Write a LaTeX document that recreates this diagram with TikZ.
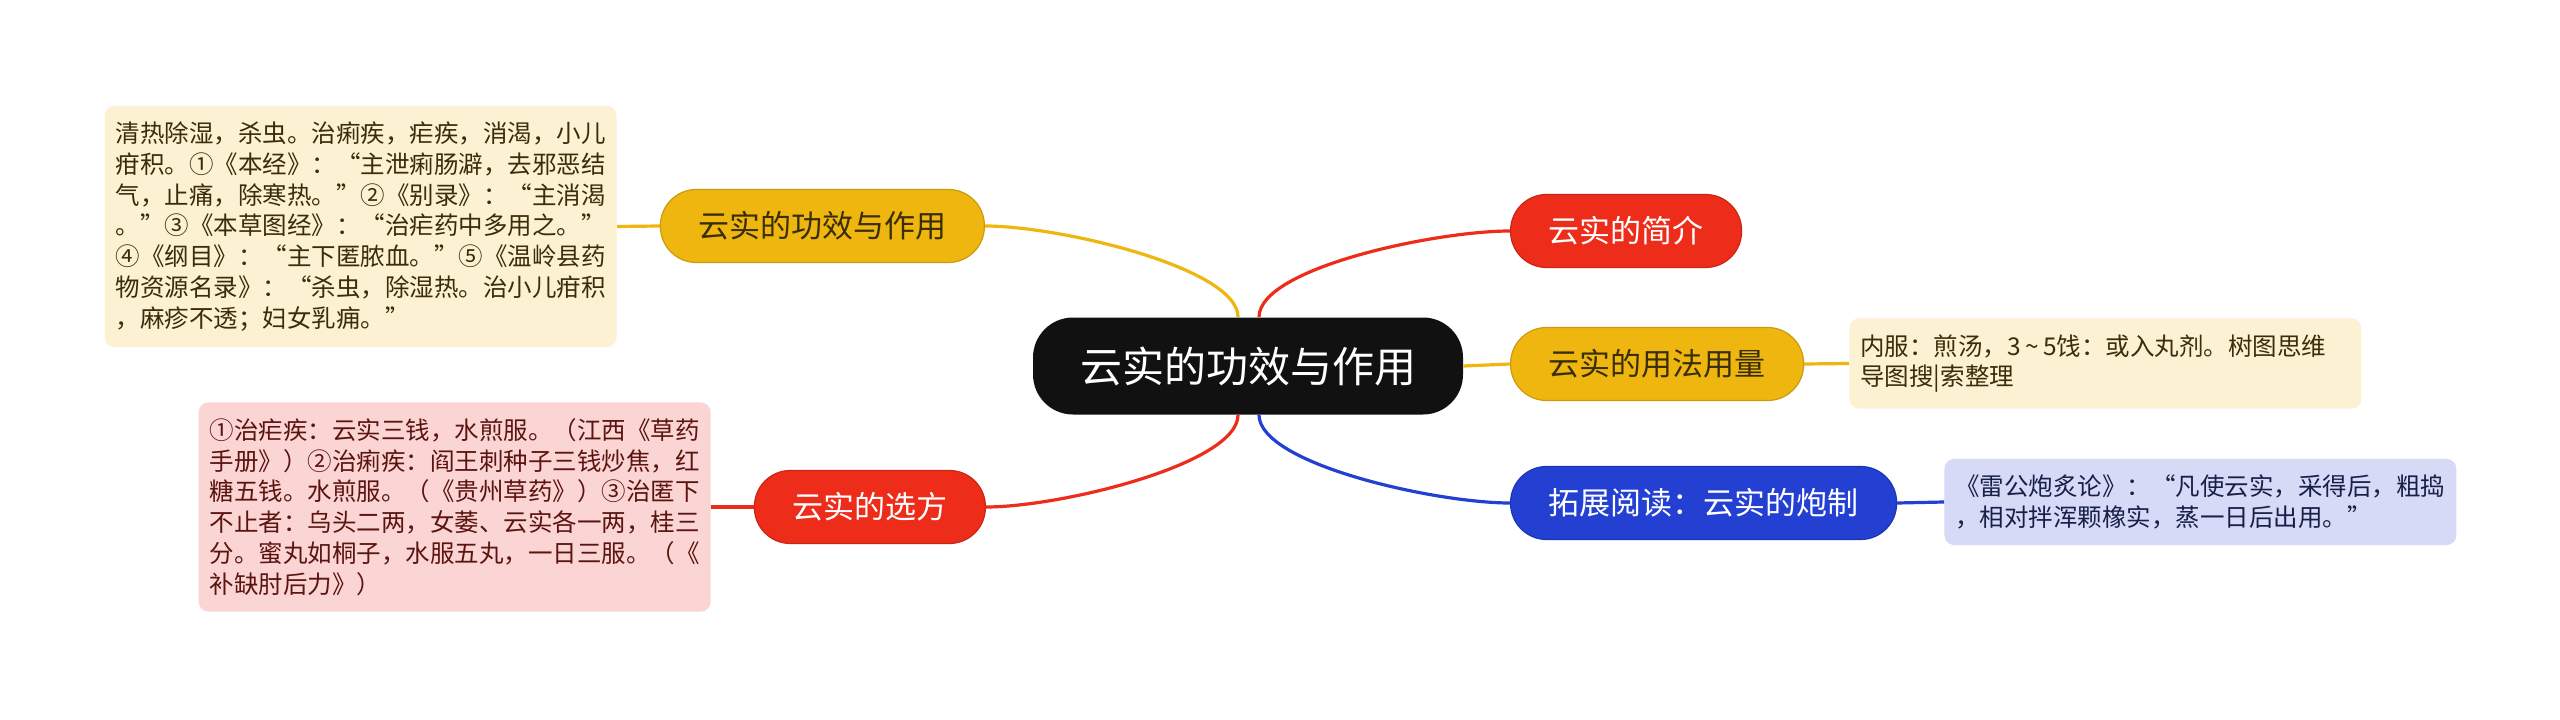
\documentclass[tikz,border=0pt]{standalone}
\usepackage{fontspec}
\setmainfont{Noto Sans CJK SC}
\definecolor{mainBlack}{HTML}{111111}
\definecolor{mainYellow}{HTML}{EFB60F}
\definecolor{mainRed}{HTML}{EE2C1A}
\definecolor{mainBlue}{HTML}{2340D2}
\definecolor{leafYellow}{HTML}{FCF1D3}
\definecolor{leafRed}{HTML}{FAD5D3}
\definecolor{leafBlue}{HTML}{D6DAF6}
\definecolor{textYellow}{HTML}{3A2E08}
\definecolor{textRed}{HTML}{5C1410}
\definecolor{textBlue}{HTML}{18204A}

\begin{document}
\begin{tikzpicture}[x=0.5pt, y=0.5pt,
    hubNode/.style={fill=mainBlack, text=white, rounded corners=20pt, minimum width=215pt, minimum height=48.5pt, inner sep=0pt, font=\fontsize{21}{25}\selectfont},
    topicNode/.style={rounded corners=18pt, minimum height=36.5pt, inner xsep=19pt, inner ysep=0pt, line width=0.6pt, font=\fontsize{15.5}{18}\selectfont},
    leafNode/.style={rounded corners=5pt, text width=245pt, inner xsep=5.5pt, inner ysep=8pt, align=left, font=\fontsize{12.25}{15.4}\selectfont},
    link/.style={line width=1.6pt}]
    \useasboundingbox[fill=white] (0,0) rectangle (2560,719);

    % centre and main topics
    \node[hubNode] (hub) at (1248,353) {云实的功效与作用};
    \node[topicNode, anchor=east, fill=mainYellow, draw=mainYellow!85!black, text=textYellow] (effect) at (985,493) {云实的功效与作用};
    \node[topicNode, anchor=west, fill=mainRed, draw=mainRed!85!black, text=white] (intro) at (1510,488) {云实的简介};
    \node[topicNode, anchor=west, fill=mainYellow, draw=mainYellow!85!black, text=textYellow] (usage) at (1510,355) {云实的用法用量};
    \node[topicNode, anchor=west, fill=mainBlue, draw=mainBlue!85!black, text=white] (reading) at (1510,216) {拓展阅读：云实的炮制};
    \node[topicNode, anchor=east, fill=mainRed, draw=mainRed!85!black, text=white] (recipe) at (986,212) {云实的选方};

    % leaves
    \node[leafNode, anchor=east, fill=leafYellow, text=textYellow] (effectLeaf) at (617,492.5) {清热除湿，杀虫。治痢疾，疟疾，消渴，小儿\\疳积。①《本经》：“主泄痢肠澼，去邪恶结\\气，止痛，除寒热。”②《别录》：“主消渴\\。”③《本草图经》：“治疟药中多用之。”\\④《纲目》：“主下匿脓血。”⑤《温岭县药\\物资源名录》：“杀虫，除湿热。治小儿疳积\\，麻疹不透；妇女乳痈。”};
    \node[leafNode, anchor=east, fill=leafRed, text=textRed] (recipeLeaf) at (711,212) {①治疟疾：云实三钱，水煎服。（江西《草药\\手册》）②治痢疾：阎王刺种子三钱炒焦，红\\糖五钱。水煎服。（《贵州草药》）③治匿下\\不止者：乌头二两，女萎、云实各一两，桂三\\分。蜜丸如桐子，水服五丸，一日三服。（《\\补缺肘后力》）};
    \node[leafNode, anchor=west, fill=leafYellow, text=textYellow] (usageLeaf) at (1849,355.5) {内服：煎汤，3\makebox[0.9em]{\textasciitilde}5饯：或入丸剂。树图思维\\导图搜|索整理};
    \node[leafNode, anchor=west, fill=leafBlue, text=textBlue] (readingLeaf) at (1944,217) {《雷公炮炙论》：“凡使云实，采得后，粗捣\\，相对拌浑颗橡实，蒸一日后出用。”};

    % links
    \draw[link, mainYellow] ([xshift=-5pt]hub.north) .. controls +(0,49) and +(75,0) .. (effect.east);
    \draw[link, mainRed] ([xshift=5.5pt]hub.north) .. controls +(0,49) and +(-75,0) .. (intro.west);
    \draw[link, mainYellow] (hub.east) -- (usage.west);
    \draw[link, mainBlue] ([xshift=5.5pt]hub.south) .. controls +(0,-49) and +(-75,0) .. (reading.west);
    \draw[link, mainRed] ([xshift=-5pt]hub.south) .. controls +(0,-49) and +(75,0) .. (recipe.east);
    \draw[link, mainYellow] (effectLeaf.east) -- (effect.west);
    \draw[link, mainRed] (recipeLeaf.east) -- (recipe.west);
    \draw[link, mainYellow] (usage.east) -- (usageLeaf.west);
    \draw[link, mainBlue] (reading.east) -- (readingLeaf.west);
\end{tikzpicture}
\end{document}
